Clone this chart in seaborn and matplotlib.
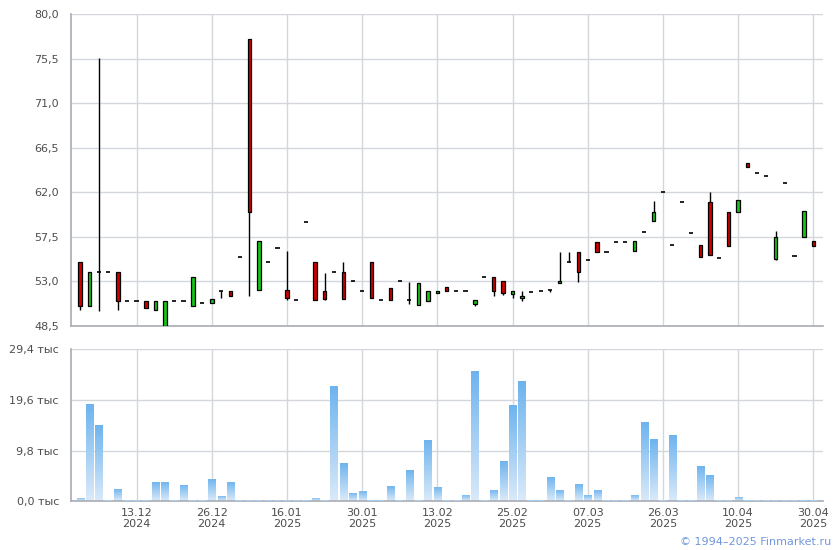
import numpy as np
import matplotlib
matplotlib.use("Agg")
import matplotlib.pyplot as plt
from matplotlib.colors import LinearSegmentedColormap
import seaborn as sns

# ---- data ----
opens = [55.0, 50.5, 54.0, 54.0, 54.0, 51.0, 51.0, 51.0, 50.1, 48.5,
         51.0, 51.0, 50.5, 50.8, 50.8, 52.0, 52.0, 55.5, 77.5, 52.1,
         55.0, 56.4, 52.1, 51.1, 59.0, 55.0, 52.0, 54.0, 54.0, 53.0,
         52.0, 55.0, 51.1, 52.3, 53.0, 51.1, 50.6, 51.0, 51.8, 52.4,
         52.0, 52.0, 50.7, 53.5, 53.5, 53.0, 51.7, 51.3, 51.9, 52.0,
         52.1, 52.85, 55.0, 56.0, 55.2, 57.0, 56.0, 57.0, 57.0, 56.1,
         58.0, 59.1, 62.0, 56.7, 61.0, 57.9, 56.7, 61.0, 55.4, 60.0,
         60.0, 65.0, 64.0, 63.7, 55.3, 63.0, 55.6, 57.5, 57.1]
highs = [55.0, 54.0, 75.6, 54.0, 54.0, 51.0, 51.0, 51.0, 51.0, 51.0,
         51.0, 51.0, 53.5, 50.8, 51.2, 52.0, 52.0, 55.5, 77.5, 57.1,
         55.0, 56.4, 56.1, 51.1, 59.0, 55.0, 53.9, 54.0, 55.0, 53.0,
         52.0, 55.0, 51.1, 52.3, 53.0, 52.9, 52.8, 52.0, 52.0, 52.4,
         52.0, 52.0, 51.1, 53.5, 53.5, 53.0, 52.0, 52.0, 51.9, 52.0,
         52.1, 56.0, 56.0, 56.0, 55.2, 57.0, 56.0, 57.0, 57.0, 57.1,
         58.0, 61.1, 62.0, 56.7, 61.0, 57.9, 56.7, 62.0, 55.4, 60.0,
         61.2, 65.0, 64.0, 63.7, 58.1, 63.0, 55.6, 60.1, 57.1]
lows = [50.1, 50.5, 50.0, 54.0, 50.1, 51.0, 51.0, 50.3, 50.1, 48.5,
        51.0, 51.0, 50.5, 50.8, 50.8, 51.3, 51.5, 55.5, 51.5, 52.1,
        55.0, 56.4, 51.1, 51.1, 59.0, 51.1, 51.1, 54.0, 51.2, 53.0,
        52.0, 51.3, 51.1, 51.1, 53.0, 50.7, 50.6, 51.0, 51.8, 52.0,
        52.0, 52.0, 50.5, 53.5, 51.5, 51.6, 51.3, 51.0, 51.9, 52.0,
        51.9, 52.8, 55.0, 52.9, 55.2, 56.0, 56.0, 57.0, 57.0, 56.1,
        58.0, 59.1, 62.0, 56.7, 61.0, 57.9, 55.5, 55.7, 55.4, 56.6,
        60.0, 64.6, 64.0, 63.7, 55.2, 63.0, 55.6, 57.5, 56.6]
closes = [50.5, 54.0, 54.0, 54.0, 51.0, 51.0, 51.0, 50.3, 51.0, 51.0,
          51.0, 51.0, 53.5, 50.8, 51.2, 52.0, 51.5, 55.5, 60.0, 57.1,
          55.0, 56.4, 51.3, 51.1, 59.0, 51.1, 51.2, 54.0, 51.2, 53.0,
          52.0, 51.3, 51.1, 51.1, 53.0, 51.1, 52.8, 52.0, 52.0, 52.0,
          52.0, 52.0, 51.1, 53.5, 52.0, 51.8, 52.0, 51.5, 51.9, 52.0,
          52.1, 53.0, 55.0, 54.0, 55.2, 56.0, 56.0, 57.0, 57.0, 57.1,
          58.0, 60.0, 62.0, 56.7, 61.0, 57.9, 55.5, 55.7, 55.4, 56.6,
          61.2, 64.6, 64.0, 63.7, 57.5, 63.0, 55.6, 60.1, 56.6]
volumes = [0.64, 18.8, 14.7, 0.3, 2.4, 0.3, 0.3, 0.3, 3.7, 3.7,
           0.3, 3.15, 0.3, 0.3, 4.3, 1.0, 3.7, 0.3, 0.3, 0.3,
           0.3, 0.3, 0.3, 0.3, 0.3, 0.64, 0.3, 22.3, 7.4, 1.6,
           2.0, 0.3, 0.3, 2.96, 0.3, 6.05, 0.3, 11.8, 2.77, 0.3,
           0.3, 1.2, 25.2, 0.3, 2.2, 7.8, 18.6, 23.2, 0.3, 0.3,
           4.7, 2.2, 0.3, 3.35, 1.2, 2.2, 0.3, 0.3, 0.3, 1.2,
           15.3, 12.0, 0.3, 12.8, 0.3, 0.3, 6.8, 5.1, 0.3, 0.3,
           0.84, 0.3, 0.3, 0.3, 0.3, 0.3, 0.3, 0.3, 0.3]
date_labels = ["13.12\n2024", "26.12\n2024", "16.01\n2025", "30.01\n2025",
               "13.02\n2025", "25.02\n2025", "07.03\n2025", "26.03\n2025",
               "10.04\n2025", "30.04\n2025"]
date_label_bars = [6, 14, 22, 30, 38, 46, 54, 62, 70, 78]
price_ticks = [48.5, 53.0, 57.5, 62.0, 66.5, 71.0, 75.5, 80.0]
volume_ticks = [0.0, 9.8, 19.6, 29.4]

# ---- style ----
sns.set_style("white")
plt.rcParams["font.family"] = ["DejaVu Sans"]

GRID = "#d3d7dc"
SPINE = "#a8acb4"
TXT = "#4d4d4d"
RED = "#d00000"
GREEN = "#19c419"

fig = plt.figure(figsize=(8.4, 5.5), dpi=100)
ax1 = fig.add_axes([0.0842, 0.4073, 0.8952, 0.5667])
ax2 = fig.add_axes([0.0842, 0.0885, 0.8952, 0.2764])

n = len(opens)
idx = np.arange(n)
o = np.array(opens); h = np.array(highs); l = np.array(lows); c = np.array(closes)

# ---- candles ----
wick = h > l
ax1.vlines(idx[wick], l[wick], h[wick], color="black", lw=1.0, zorder=3)
body = np.abs(c - o) > 1e-9
cols = np.where(c >= o, GREEN, RED)
ax1.bar(idx[body], np.abs(c - o)[body], bottom=np.minimum(o, c)[body], width=0.38,
        color=cols[body], edgecolor="black", linewidth=0.9, zorder=4)
flat = ~body
ax1.hlines(o[flat], idx[flat] - 0.22, idx[flat] + 0.22, color="black", lw=1.2, zorder=4)

ax1.set_xlim(-1, 79)
ax1.set_ylim(48.5, 80.0)
ax1.set_yticks(price_ticks)
ax1.set_yticklabels([f"{v:.1f}".replace(".", ",") for v in price_ticks])
ax1.set_xticks(date_label_bars)
ax1.set_xticklabels([])

# ---- volume ----
sns.barplot(x=idx, y=volumes, ax=ax2, width=0.75, color="#7ab9ee", saturation=1,
            errorbar=None, zorder=2)
cmap = LinearSegmentedColormap.from_list("vol", ["#dbeaf9", "#6cb3ee"])
grad = np.linspace(0, 1, 256).reshape(-1, 1)
for p in list(ax2.patches):
    x0, y0 = p.get_x(), p.get_y()
    w, hh = p.get_width(), p.get_height()
    if hh < 0.5:
        # tiny bars: solid light blue, drawn above the axis line
        p.set_facecolor("#a9d0f3")
        p.set_edgecolor("none")
        p.set_zorder(3)
        continue
    im = ax2.imshow(grad, extent=[x0, x0 + w, y0, y0 + hh], origin="lower",
                    cmap=cmap, aspect="auto", zorder=2, interpolation="bilinear")
    im.set_clip_path(p)
    p.set_facecolor("none")
    p.set_edgecolor("none")

ax2.set_xlim(-1, 79)
ax2.set_ylim(0, 29.4)
ax2.set_yticks(volume_ticks)
ax2.set_yticklabels([f"{v:.1f} тыс".replace(".", ",") for v in volume_ticks])
ax2.set_xticks(date_label_bars)
ax2.set_xticklabels(date_labels, linespacing=1.15)

for ax in (ax1, ax2):
    ax.set_axisbelow(True)
    ax.grid(True, color=GRID, lw=1.0)
    for s in ("top", "right"):
        ax.spines[s].set_visible(False)
    for s in ("left", "bottom"):
        ax.spines[s].set_color(SPINE)
        ax.spines[s].set_linewidth(1.2)
    ax.tick_params(axis="y", length=6.5, width=1.0, color=GRID, pad=2,
                   labelsize=8, labelcolor=TXT)
    ax.tick_params(axis="x", length=3, width=1.0, color=SPINE, pad=2,
                   labelsize=8, labelcolor=TXT)
    ax.set_xlabel("")
    ax.set_ylabel("")

fig.text(0.989, 0.0145, "© 1994–2025 Finmarket.ru", ha="right", va="center",
         color="#7097df", fontsize=8)

fig.savefig("out.png", dpi=100)
